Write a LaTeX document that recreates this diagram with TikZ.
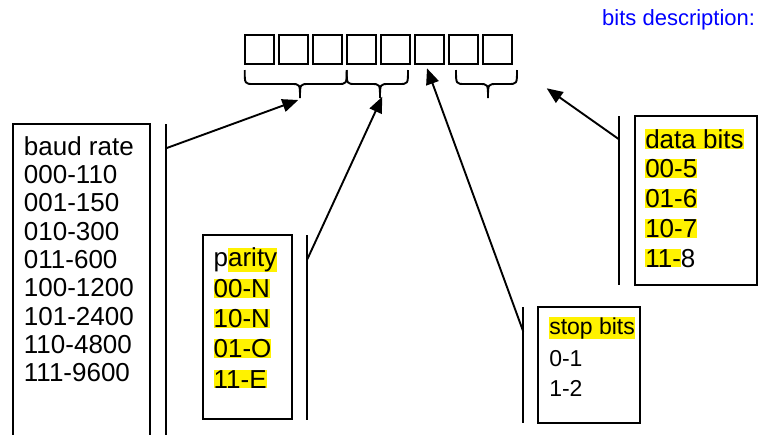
\documentclass[tikz,border=0pt]{standalone}
\usepackage{fontspec}
\setmainfont{Liberation Sans}
\usetikzlibrary{arrows.meta}
\newcommand\hlt[1]{{\setlength\fboxsep{0pt}\colorbox{yellow}{#1}}}
\definecolor{descblue}{RGB}{0,0,255}
\begin{document}
\begin{tikzpicture}[x=1pt,y=-1pt,line width=1.9pt,
  sq/.style={draw, minimum width=29.5pt, minimum height=29pt, inner sep=0pt},
  txt/.style={anchor=base west, inner sep=0pt, font=\fontsize{26}{30}\selectfont},
  stxt/.style={anchor=base west, inner sep=0pt, font=\fontsize{23}{28}\selectfont},
  arr/.style={-{Triangle[length=16pt,width=13pt]}},
  bracestyle/.style={draw, line width=1.9pt}]
\useasboundingbox (0,0) rectangle (759,434);

% title
\node[anchor=base east, inner sep=0pt, text=descblue, font=\fontsize{22}{26}\selectfont] (title) at (756,25) {bits description:};

% bit squares
\foreach \i in {1,...,8} {
  \node[sq] (b\i) at ({259.5+34*(\i-1)},49.5) {};
}

% braces
\path[bracestyle] (244.7,70) .. controls (244.7,84) .. (253.7,84) -- (291,84) .. controls (300,84) .. (300,98)
   .. controls (300,84) .. (309,84) -- (337.7,84) .. controls (346.7,84) .. (346.7,70);
\path[bracestyle] (346.7,70) .. controls (346.7,84) .. (355.7,84) -- (371,84) .. controls (380,84) .. (380,98)
   .. controls (380,84) .. (389,84) -- (399,84) .. controls (408,84) .. (408,70);
\path[bracestyle] (456,70) .. controls (456,84) .. (465,84) -- (479,84) .. controls (488,84) .. (488,98)
   .. controls (488,84) .. (497,84) -- (508,84) .. controls (517,84) .. (517,70);

\coordinate (brA) at (298.3,100);
\coordinate (brB) at (382.3,96.7);
\coordinate (bitS) at (427,68.3);
\coordinate (brD) at (546.7,88.3);

% baud rate box
\draw (13.3,436) -- (13.3,124) -- (150,124) -- (150,436);
\coordinate (baudTop) at (166,124);
\coordinate (baudBot) at (166,436);
\draw (baudTop) -- (baudBot);
\coordinate (baudStart) at (166,148.3);
\node[txt] (baud0) at (23,155) {baud rate};
\node[txt] (baud1) at (23,183.3) {000-110};
\node[txt] (baud2) at (23,211.7) {001-150};
\node[txt] (baud3) at (23,240) {010-300};
\node[txt] (baud4) at (23,268.3) {011-600};
\node[txt] (baud5) at (23,296.7) {100-1200};
\node[txt] (baud6) at (23,325) {101-2400};
\node[txt] (baud7) at (23,353.3) {110-4800};
\node[txt] (baud8) at (23,381.7) {111-9600};

% parity box
\draw (202.7,235) rectangle (291.7,419.3);
\coordinate (parTop) at (307.3,235);
\coordinate (parBot) at (307.3,420);
\draw (parTop) -- (parBot);
\coordinate (parStart) at (307.3,259.3);
\node[txt] (par0) at (212.7,266.5) {p\hlt{arity}};
\node[txt] (par1) at (212.7,297.3) {\hlt{00-N}};
\node[txt] (par2) at (212.7,327.3) {\hlt{10-N}};
\node[txt] (par3) at (212.7,357.3) {\hlt{01-O}};
\node[txt] (par4) at (212.7,388.3) {\hlt{11-E}};

% stop bits box
\draw (538.3,307.3) rectangle (640,423.3);
\coordinate (stopTop) at (523.3,307.3);
\coordinate (stopBot) at (523.3,423.3);
\draw (stopTop) -- (stopBot);
\coordinate (stopStart) at (523.3,331.7);
\node[stxt] (stop0) at (548.3,334) {\hlt{stop bits}};
\node[stxt] (stop1) at (548.3,366.7) {0-1};
\node[stxt] (stop2) at (548.3,396) {1-2};

% data bits box
\draw (635,116) rectangle (757.3,285);
\coordinate (dataTop) at (619,116);
\coordinate (dataBot) at (619,285);
\draw (dataTop) -- (dataBot);
\coordinate (dataStart) at (619,139.3);
\node[txt] (data0) at (644.3,148.3) {\hlt{data bits}};
\node[txt] (data1) at (644.3,177.3) {\hlt{00-5}};
\node[txt] (data2) at (644.3,207.3) {\hlt{01-6}};
\node[txt] (data3) at (644.3,237.3) {\hlt{10-7}};
\node[txt] (data4) at (644.3,267.3) {\hlt{11-}8};

% arrows
\draw[arr] (baudStart) -- (brA);
\draw[arr] (parStart) -- (brB);
\draw[arr] (stopStart) -- (bitS);
\draw[arr] (dataStart) -- (brD);
\end{tikzpicture}
\end{document}
